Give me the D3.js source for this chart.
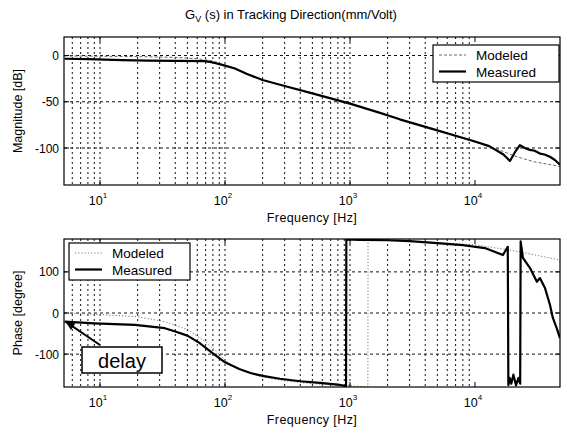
<!DOCTYPE html>
<html>
<head>
<meta charset="utf-8">
<script src="https://cdn.jsdelivr.net/npm/d3@7"></script>
<style>
  body { margin: 0; background: #fff; }
  svg { display: block; font-family: Arial, "Liberation Sans", Helvetica, sans-serif; }
  .grid line { stroke: #111; stroke-width: 1; stroke-dasharray: 2,3; }
  .grid line.h { stroke-dasharray: 3,3; }
</style>
</head>
<body>
<svg width="561" height="427"></svg>
<script>
// ---- data ----
const freqDomain = [5.15, 47900];
const decades = [1, 2, 3, 4];
const magTicks = [0, -50, -100];
const phaseTicks = [100, 0, -100];
const legendNames = ['Modeled', 'Measured'];

// magnitude [dB]
const magMeasured = [
  [5.2, -3.5], [8, -4], [15, -5], [24, -5.6], [40, -5.8], [69, -6], [80, -7.5],
  [100, -11], [120, -14], [150, -20], [200, -26.5], [300, -33], [500, -41],
  [1000, -52], [1740, -62], [2500, -69], [5000, -81], [10000, -93],
  [13000, -98], [16900, -107], [19050, -114], [21000, -104], [22900, -97],
  [25000, -100], [27500, -102], [30000, -103], [33100, -106], [36000, -107],
  [39800, -109.5], [43600, -113], [47900, -118]
];
const magModeled = [
  [5.2, -0.5], [10, -0.8], [20, -1.2], [40, -2], [60, -3.5], [80, -6],
  [100, -10.5], [120, -14], [150, -20], [200, -26.5], [300, -33], [500, -41],
  [1000, -52], [2500, -69], [5000, -81], [10000, -93.5], [15000, -101],
  [20000, -108], [25000, -112], [30000, -115], [40000, -118], [47900, -120]
];

// phase [degree]
const phaseMeasured = [
  [5.2, -21], [9, -25], [19, -29], [33, -37], [40, -45], [50, -55], [62, -72],
  [80, -98], [100, -120], [130, -136], [160, -146], [200, -153], [275, -160],
  [400, -166], [575, -170], [800, -174], [930, -178], [935, 179], [1200, 178],
  [2000, 177], [3000, 175], [5000, 170], [8000, 165], [12000, 158],
  [16750, 141], [18300, 161], [18500, -175], [19000, -158], [19500, -172],
  [20300, -150], [21300, -176], [22300, -158], [23000, -172], [23200, 174],
  [24200, 134], [27500, 110], [31300, 76], [33100, 85], [36300, 61],
  [39800, 20], [42000, -12], [45000, -36], [47900, -61]
];
const phaseModeled = [
  [5.2, 0], [10, -4], [20, -9], [33, -21], [50, -40], [70, -70], [90, -100],
  [110, -125], [150, -145], [200, -156], [300, -165], [500, -172],
  [1000, -177], [1390, -180], [1395, 180], [3000, 175], [10000, 166],
  [20000, 152], [47900, 129]
];

// ---- layout ----
const svg = d3.select('svg');
const left = 64, right = 560;

const x = d3.scaleLog().domain(freqDomain).range([left, right]);
const yMag = d3.scaleLinear().domain([-140, 20]).range([185, 37]);
const yPhase = d3.scaleLinear().domain([-180, 180]).range([387, 239]);

// log grid: 1..9 per decade
const minorTicks = [];
decades.forEach(e => {
  for (let k = 1; k <= 9; k++) {
    const v = k * Math.pow(10, e - 1);
    if (v >= freqDomain[0] && v <= freqDomain[1]) minorTicks.push(v);
  }
});

function panel(y, ticks, series, styles, legendPos, id) {
  const [y0, y1] = y.range();
  const g = svg.append('g');

  svg.append('clipPath').attr('id', id)
    .append('rect').attr('x', left).attr('y', y1)
    .attr('width', right - left).attr('height', y0 - y1);

  const grid = g.append('g').attr('class', 'grid');
  grid.selectAll('.vx').data(minorTicks).enter().append('line')
    .attr('x1', d => x(d)).attr('x2', d => x(d))
    .attr('y1', y1).attr('y2', y0);
  grid.selectAll('.hy').data(ticks).enter().append('line')
    .attr('class', 'h')
    .attr('x1', left).attr('x2', right)
    .attr('y1', d => y(d)).attr('y2', d => y(d));

  const line = d3.line().x(d => x(d[0])).y(d => y(d[1]));
  const lines = g.append('g').attr('clip-path', `url(#${id})`);
  series.forEach((s, i) => {
    lines.append('path').datum(s)
      .attr('fill', 'none')
      .attr('stroke', styles[i].color)
      .attr('stroke-width', styles[i].width)
      .attr('stroke-dasharray', styles[i].dash)
      .attr('stroke-linejoin', 'round')
      .attr('d', line);
  });

  // frame
  g.append('rect').attr('x', left).attr('y', y1)
    .attr('width', right - left).attr('height', y0 - y1)
    .attr('fill', 'none').attr('stroke', '#000').attr('stroke-width', 1.2);

  // major ticks (inside)
  const majors = decades.map(e => Math.pow(10, e));
  g.selectAll('.xt').data(majors).enter().append('path')
    .attr('d', d => `M${x(d)},${y0}v-5M${x(d)},${y1}v5`)
    .attr('stroke', '#000');
  g.selectAll('.yt').data(ticks).enter().append('path')
    .attr('d', d => `M${left},${y(d)}h5M${right},${y(d)}h-5`)
    .attr('stroke', '#000');

  // x tick labels 10^n
  const xl = g.selectAll('.xl').data(decades).enter().append('text')
    .attr('x', d => x(Math.pow(10, d)) - 2)
    .attr('y', y0 + 20)
    .attr('text-anchor', 'middle')
    .attr('font-size', 12.5);
  xl.append('tspan').text('10');
  xl.append('tspan').attr('dy', -7).attr('font-size', 8).text(d => d);

  // y tick labels
  g.selectAll('.yl').data(ticks).enter().append('text')
    .attr('x', left - 5).attr('y', d => y(d) + 4.5)
    .attr('text-anchor', 'end').attr('font-size', 12)
    .text(d => d);

  g.append('text').attr('x', 312).attr('y', y0 + 37)
    .attr('text-anchor', 'middle').attr('font-size', 12.5)
    .attr('letter-spacing', 0.4)
    .text('Frequency [Hz]');

  // legend
  const lg = g.append('g').attr('transform', `translate(${legendPos[0]},${legendPos[1]})`);
  lg.append('rect').attr('width', legendPos[2]).attr('height', 37)
    .attr('fill', '#fff').attr('stroke', '#000').attr('stroke-width', 1.2);
  legendNames.forEach((name, i) => {
    const yy = 10 + i * 16.5;
    lg.append('line').attr('x1', 6).attr('x2', 33).attr('y1', yy).attr('y2', yy)
      .attr('stroke', styles[i].color).attr('stroke-width', styles[i].width)
      .attr('stroke-dasharray', styles[i].dash);
    lg.append('text').attr('x', 43).attr('y', yy + 5)
      .attr('font-size', 13.5).text(name);
  });
  return g;
}

const measuredStyle = { color: '#000', width: 2.2, dash: null };

panel(yMag, magTicks, [magModeled, magMeasured],
  [{ color: '#666', width: 1, dash: '3,2' }, measuredStyle],
  [433, 45, 126], 'clipMag');

panel(yPhase, phaseTicks, [phaseModeled, phaseMeasured],
  [{ color: '#777', width: 1, dash: '1.2,2' }, measuredStyle],
  [69, 243, 121], 'clipPhase');

// y axis titles
svg.append('text')
  .attr('transform', `translate(22,${(37 + 185) / 2}) rotate(-90)`)
  .attr('text-anchor', 'middle').attr('font-size', 12.5)
  .text('Magnitude [dB]');
svg.append('text')
  .attr('transform', `translate(22,${(239 + 387) / 2}) rotate(-90)`)
  .attr('text-anchor', 'middle').attr('font-size', 12.5)
  .text('Phase [degree]');

// title
const title = svg.append('text').attr('x', 291).attr('y', 19)
  .attr('text-anchor', 'middle').attr('font-size', 13);
title.append('tspan').text('G');
title.append('tspan').attr('dy', 3).attr('font-size', 9).text('V');
title.append('tspan').attr('dy', -3).text(' (s) in Tracking Direction(mm/Volt)');

// delay annotation
const delayBox = svg.append('g');
delayBox.append('rect').attr('x', 82).attr('y', 347).attr('width', 80).attr('height', 26)
  .attr('fill', '#fff').attr('stroke', '#000').attr('stroke-width', 1.5);
delayBox.append('text').attr('x', 122).attr('y', 368)
  .attr('text-anchor', 'middle').attr('font-size', 20).text('delay');

const tip = [x(5.3), yPhase(-21)];
const tail = [100, 345];
const ang = Math.atan2(tip[1] - tail[1], tip[0] - tail[0]);
svg.append('line').attr('x1', tail[0]).attr('y1', tail[1])
  .attr('x2', tip[0]).attr('y2', tip[1])
  .attr('stroke', '#000').attr('stroke-width', 2);
const ah = 10, aw = 0.4;
svg.append('path')
  .attr('d', `M${tip[0]},${tip[1]}` +
    `L${tip[0] - ah * Math.cos(ang - aw)},${tip[1] - ah * Math.sin(ang - aw)}` +
    `L${tip[0] - ah * Math.cos(ang + aw)},${tip[1] - ah * Math.sin(ang + aw)}Z`)
  .attr('fill', '#000');
</script>
</body>
</html>
